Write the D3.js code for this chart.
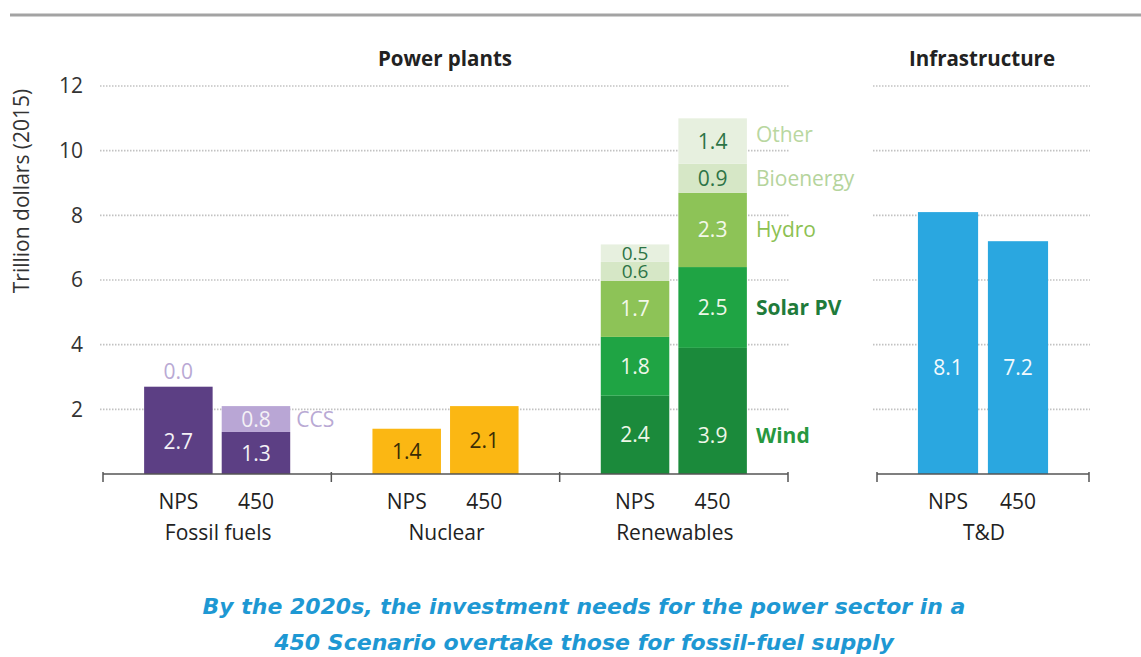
<!DOCTYPE html>
<html>
<head>
<meta charset="utf-8">
<script src="https://cdn.jsdelivr.net/npm/d3@7"></script>
<style>
  html, body { margin: 0; padding: 0; background: #fff; }
  svg { display: block; font-family: "Open Sans", Lato, sans-serif; }
</style>
</head>
<body>
<svg id="chart" width="1141" height="657"></svg>
<script>
// ---------------- data ----------------
const groups = ["Fossil fuels", "Nuclear", "Renewables"];
const infraGroups = ["T&D"];
const scenarios = ["NPS", "450"];
const yTicks = [2, 4, 6, 8, 10, 12];

const fossilBase = [2.7, 1.3];
const fossilCCS = [0.0, 0.8];
const nuclear = [1.4, 2.1];
const wind = [2.42, 3.9];
const solarPV = [1.82, 2.5];
const hydro = [1.73, 2.3];
const bioenergy = [0.59, 0.9];
const other = [0.54, 1.4];
const td = [8.1, 7.2];

const panelTitles = ["Power plants", "Infrastructure"];
const captionLines = [
  "By the 2020s, the investment needs for the power sector in a",
  "450 Scenario overtake those for fossil-fuel supply"
];

// ---------------- layout ----------------
const svg = d3.select("#chart");
const y = d3.scaleLinear().domain([0, 12]).range([474, 86]);

const xLeft = d3.scaleBand().domain(groups).range([103, 788]).padding(0);
const xRight = d3.scaleBand().domain(infraGroups).range([877, 1089]).padding(0);
const xInLeft = d3.scaleBand().domain(scenarios).range([0, xLeft.bandwidth()])
  .paddingInner(0.117).paddingOuter(0.53);
const xInRight = d3.scaleBand().domain(scenarios).range([0, xRight.bandwidth()])
  .paddingInner(0.14).paddingOuter(0.585);

const FS = 21;

// top rule
svg.append("line").attr("x1", 10).attr("x2", 1141).attr("y1", 15).attr("y2", 15)
  .attr("stroke", "#a3a3a3").attr("stroke-width", 3);

// gridlines
const grid = svg.append("g");
[[100, 790], [873, 1090]].forEach(([a, b]) => {
  grid.selectAll(null).data(yTicks).enter().append("line")
    .attr("x1", a).attr("x2", b)
    .attr("y1", d => y(d)).attr("y2", d => y(d))
    .attr("stroke", "#c2c2c2").attr("stroke-width", 1.6)
    .attr("stroke-dasharray", "1.5,1.5");
});

// y axis
const yAxis = svg.append("g").attr("transform", "translate(90,0)")
  .call(d3.axisLeft(y).tickValues(yTicks).tickSize(0).tickPadding(7));
yAxis.select(".domain").remove();
yAxis.attr("font-family", null).attr("font-size", null);
yAxis.selectAll("text").attr("font-size", FS).attr("fill", "#333");

svg.append("text").attr("transform", "translate(29,191) rotate(-90)")
  .attr("text-anchor", "middle").attr("font-size", 21).attr("fill", "#333")
  .text("Trillion dollars (2015)");

// panel titles
svg.append("text").attr("x", 445).attr("y", 66).attr("text-anchor", "middle")
  .attr("font-size", 20.5).attr("font-weight", "bold").attr("fill", "#222").text(panelTitles[0]);
svg.append("text").attr("x", 982).attr("y", 66).attr("text-anchor", "middle")
  .attr("font-size", 20.5).attr("font-weight", "bold").attr("fill", "#222").text(panelTitles[1]);

// series definitions
const WHITE = "#f4f1f6";
const series = [
  { group: "Fossil fuels", x: xLeft, xi: xInLeft, layers: [
    { name: "Fossil", values: fossilBase, color: "#5c3f84", text: WHITE },
    { name: "CCS", values: fossilCCS, color: "#b9a6d5", text: WHITE, side: "CCS", sideColor: "#b9a9d4" }
  ]},
  { group: "Nuclear", x: xLeft, xi: xInLeft, layers: [
    { name: "Nuclear", values: nuclear, color: "#fbb713", text: "#3a2c05" }
  ]},
  { group: "Renewables", x: xLeft, xi: xInLeft, layers: [
    { name: "Wind", values: wind, color: "#1b8a3b", text: "#eef7e8", side: "Wind", sideColor: "#27983f", sideBold: true },
    { name: "Solar PV", values: solarPV, color: "#1fa444", text: "#eef7e8", side: "Solar PV", sideColor: "#1f7b3b", sideBold: true },
    { name: "Hydro", values: hydro, color: "#8dc357", text: "#f3f8ea", side: "Hydro", sideColor: "#8cc152" },
    { name: "Bioenergy", values: bioenergy, color: "#d6e7c6", text: "#2d7446", side: "Bioenergy", sideColor: "#b5d49c" },
    { name: "Other", values: other, color: "#e7f0df", text: "#2d7446", side: "Other", sideColor: "#b9d7a0" }
  ]},
  { group: "T&D", x: xRight, xi: xInRight, layers: [
    { name: "T&D", values: td, color: "#2aa7e0", text: "#f2f9fd" }
  ]}
];

// label position overrides (data units), kept in code
const labelAt = {
  "Fossil fuels|Fossil|NPS": 1.0,
  "Renewables|Wind|450": 1.2,
  "T&D|T&D|NPS": 3.3,
  "T&D|T&D|450": 3.3
};
const sideNudge = { "Other": -7 };

const bars = svg.append("g");
const labels = svg.append("g");

series.forEach(s => {
  scenarios.forEach((sc, si) => {
    let base = 0;
    const bx = s.x(s.group) + s.xi(sc);
    const bw = s.xi.bandwidth();
    s.layers.forEach(l => {
      const v = l.values[si];
      const y0 = base, y1 = base + v;
      base = y1;
      if (v > 0) {
        bars.append("rect").attr("x", bx).attr("width", bw)
          .attr("y", y(y1)).attr("height", y(y0) - y(y1)).attr("fill", l.color);
      }
      const key = s.group + "|" + l.name + "|" + sc;
      let ly, col = l.text, fs = FS;
      if (v === 0) { ly = y(y1) - 15; col = l.sideColor; }
      else ly = labelAt[key] !== undefined ? y(labelAt[key]) : (y(y0) + y(y1)) / 2;
      if (v > 0 && y(y0) - y(y1) < 20) fs = 19;
      labels.append("text").attr("x", bx + bw / 2).attr("y", ly)
        .attr("dy", "0.36em").attr("text-anchor", "middle")
        .attr("font-size", fs).attr("fill", col).text(v.toFixed(1));
      if (l.side && si === 1) {
        const sy = (labelAt[key] !== undefined ? y(labelAt[key]) : (y(y0) + y(y1)) / 2)
          + (sideNudge[l.side] || 0);
        labels.append("text").attr("x", bx + bw + (s.group === "Fossil fuels" ? 6 : 9)).attr("y", sy)
          .attr("dy", "0.36em").attr("font-size", FS)
          .attr("font-weight", l.sideBold ? "bold" : "normal")
          .attr("fill", l.sideColor).text(l.side);
      }
    });
  });
});

// x axes
function xAxisLine(scale, xi) {
  const r = scale.range();
  const g = svg.append("g");
  g.append("line").attr("x1", r[0]).attr("x2", r[1]).attr("y1", y(0)).attr("y2", y(0))
    .attr("stroke", "#555").attr("stroke-width", 1.5);
  const edges = scale.domain().map(d => scale(d)).concat([r[1]]);
  g.selectAll(null).data(edges).enter().append("line")
    .attr("x1", d => d).attr("x2", d => d).attr("y1", y(0) - 2).attr("y2", y(0) + 8)
    .attr("stroke", "#555").attr("stroke-width", 1.5);
  scale.domain().forEach(gr => {
    scenarios.forEach(sc => {
      g.append("text").attr("x", scale(gr) + xi(sc) + xi.bandwidth() / 2).attr("y", 509)
        .attr("text-anchor", "middle").attr("font-size", FS).attr("fill", "#222").text(sc);
    });
    g.append("text").attr("x", scale(gr) + scale.bandwidth() / 2 + 1).attr("y", 540)
      .attr("text-anchor", "middle").attr("font-size", FS).attr("fill", "#222").text(gr);
  });
}
xAxisLine(xLeft, xInLeft);
xAxisLine(xRight, xInRight);

// caption (sized to the reference line width)
const capWidths = [763, 620];
captionLines.forEach((t, i) => {
  const el = svg.append("text").attr("x", 584).attr("y", 614 + i * 36).attr("text-anchor", "middle")
    .style("font-family", "'DejaVu Sans', sans-serif").style("font-style", "italic")
    .style("font-weight", "bold").attr("font-size", 20).attr("fill", "#1e98d3").text(t);
  const w = el.node().getComputedTextLength();
  if (w > 0) el.attr("font-size", 20 * capWidths[i] / w);
});
</script>
</body>
</html>
